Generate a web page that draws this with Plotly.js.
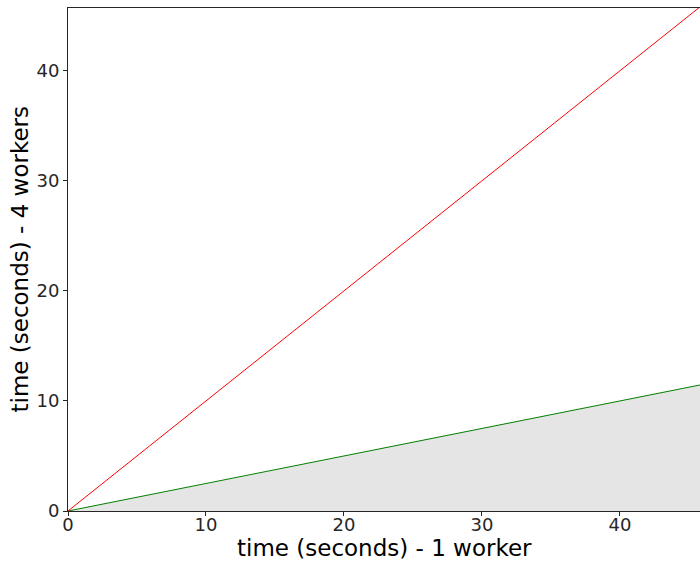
<!DOCTYPE html>
<html>
<head>
<meta charset="utf-8">
<script src="https://cdn.plot.ly/plotly-3.0.1.min.js"></script>
<style>html,body{margin:0;padding:0;background:#fff;}</style>
</head>
<body>
<div id="chart" style="width:700px;height:561px;"></div>
<script>
// Data
const singleWorkerTime = [0, 45.8];
const idealFourWorkerTime = [0, 45.8];   // y = x reference (red)
const speedupFourWorkerTime = [0, 11.45]; // y = x/4 (green, filled)
const xTicks = [0, 10, 20, 30, 40];
const yTicks = [0, 10, 20, 30, 40];
const xTitle = 'time (seconds) - 1 worker';
const yTitle = 'time (seconds) - 4 workers';
const xRange = [0, 45.8];
const yRange = [0, 45.7];

const traces = [
  {
    x: singleWorkerTime, y: speedupFourWorkerTime,
    type: 'scatter', mode: 'lines',
    line: {color: '#008000', width: 1},
    fill: 'tozeroy', fillcolor: '#e5e5e5',
    hoverinfo: 'skip'
  },
  {
    x: singleWorkerTime, y: idealFourWorkerTime,
    xaxis: 'x2', yaxis: 'y',
    type: 'scatter', mode: 'lines',
    line: {color: '#ff0000', width: 1},
    hoverinfo: 'skip'
  }
];

const axisFont = {family: 'DejaVu Sans', size: 18, color: '#262626'};
const titleFont = {family: 'DejaVu Sans', size: 23, color: '#000'};
const layout = {
  width: 700, height: 561,
  margin: {l: 68, r: 0, t: 8, b: 50},
  paper_bgcolor: '#ffffff', plot_bgcolor: '#ffffff',
  showlegend: false,
  xaxis: {
    range: xRange, tickvals: xTicks,
    showgrid: false, zeroline: false, automargin: false,
    showline: true, linecolor: '#262626', linewidth: 1, mirror: true,
    ticks: 'outside', ticklen: 4, tickcolor: '#262626', tickwidth: 1,
    showticklabels: false
  },
  // label-only axis (same scale) so tick labels sit close to the axis line
  xaxis2: {
    range: xRange, overlaying: 'x', anchor: 'y', side: 'bottom',
    tickvals: xTicks, ticktext: xTicks.map(String),
    showgrid: false, zeroline: false, automargin: false, showline: false,
    ticks: '', ticklen: 0, ticklabelstandoff: 1,
    tickfont: axisFont
  },
  yaxis: {
    range: yRange, tickvals: yTicks, ticktext: yTicks.map(String),
    showgrid: false, zeroline: false, automargin: false,
    showline: true, linecolor: '#262626', linewidth: 1,
    ticks: 'outside', ticklen: 4, tickcolor: '#262626', tickwidth: 1,
    tickfont: axisFont
  },
  annotations: [
    {text: xTitle, xref: 'paper', yref: 'paper', x: 0.5, y: 0,
     xanchor: 'center', yanchor: 'middle', yshift: -37, showarrow: false, font: titleFont},
    {text: yTitle, xref: 'paper', yref: 'paper', x: 0, y: 0.5, textangle: -90,
     xanchor: 'center', yanchor: 'middle', xshift: -49, showarrow: false, font: titleFont}
  ]
};

Plotly.newPlot('chart', traces, layout, {displayModeBar: false, staticPlot: true});
</script>
</body>
</html>
